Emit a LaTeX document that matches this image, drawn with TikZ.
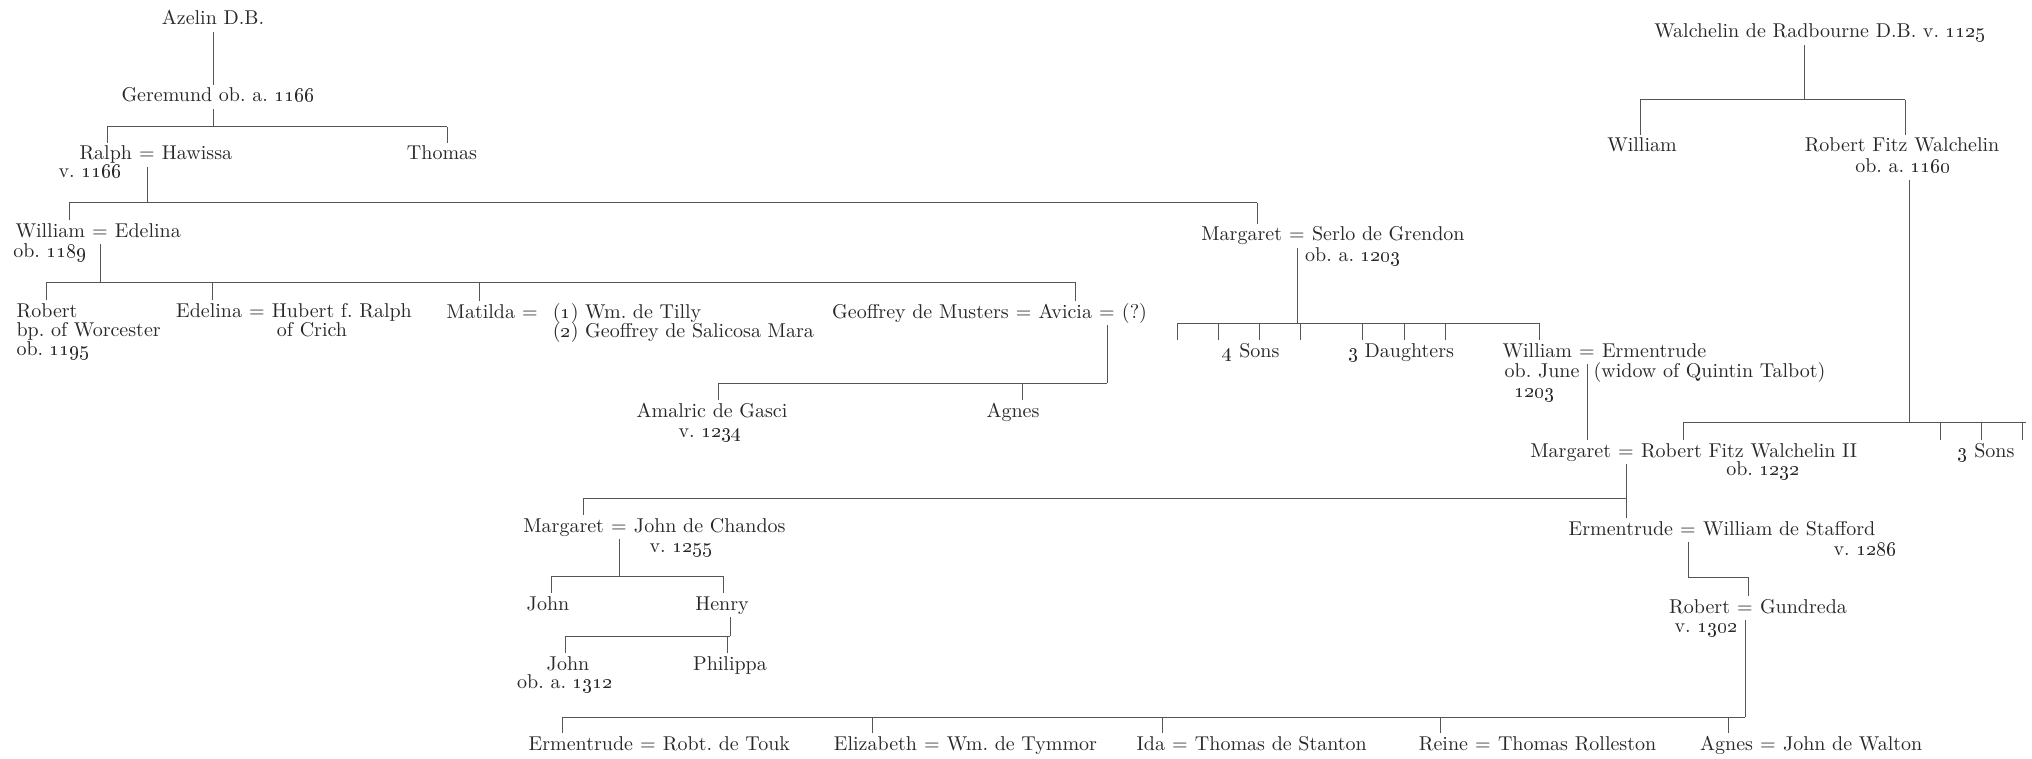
\documentclass[tikz,border=0pt]{standalone}
\usepackage{tikz}
\usetikzlibrary{positioning}
\definecolor{ink}{RGB}{40,40,40}
\definecolor{rulegray}{RGB}{85,85,85}
\newcommand{\yr}[1]{\oldstylenums{#1}}
\tikzset{
  pers/.style={inner xsep=1.6pt, inner ysep=1.5pt, text height=7pt, text depth=2pt,
               font=\fontsize{10}{12}\selectfont, text=ink},
  eqs/.style ={pers},
  kin/.style ={draw=rulegray, line width=0.5pt},
}
\begin{document}
\begin{tikzpicture}[x=0.5pt, y=-0.5pt]
\useasboundingbox (0,0) rectangle (2032,759);

% --- Azelin line ---
\node[pers] (aze) at (213,20) {Azelin D.B.};
\node[pers] (ger) at (218,97) {Geremund ob.\ a.\ \yr{1166}};
\node[eqs] (raleq) at (147,155) {=};
\node[pers, left=0pt of raleq] (ral) {Ralph};
\node[pers, right=0pt of raleq] (haw) {Hawissa};
\node[pers] (ralv) at (90,173) {v.\ \yr{1166}};
\node[pers] (tho) at (442,155) {Thomas};
\coordinate (b1w) at (107,127); \coordinate (b1e) at (447,127);
\draw[kin] (aze.south) -- (aze.south |- ger.north);
\draw[kin] (aze.south |- ger.south) -- (aze.south |- b1w);
\draw[kin] (b1w) -- (b1e);
\draw[kin] (b1w) -- (b1w |- ral.north);
\draw[kin] (b1e) -- (b1e |- tho.north);

\node[eqs] (wileq) at (100,232) {=};
\node[pers, left=0pt of wileq] (wil) {William};
\node[pers, right=0pt of wileq] (ede) {Edelina};
\node[pers] (wilob) at (50,252) {ob.\ \yr{1189}};
\node[eqs] (mgteq) at (1297,236) {=};
\node[pers, left=0pt of mgteq] (mgt) {Margaret};
\node[pers, right=0pt of mgteq] (ser) {Serlo de Grendon};
\node[pers] (serob) at (1353,256) {ob.\ a.\ \yr{1203}};
\coordinate (b2w) at (69,203); \coordinate (b2e) at (1257,203);
\draw[kin] (raleq.south) -- (raleq.south |- b2w);
\draw[kin] (b2w) -- (b2e);
\draw[kin] (b2w) -- (b2w |- wil.north);
\draw[kin] (b2e) -- (b2e |- mgt.north);

% children of William and Edelina
\node[pers, anchor=west] (rob) at (13,312) {Robert};
\node[pers, anchor=west] (robbp) at (13,331) {bp.\ of Worcester};
\node[pers, anchor=west] (robob) at (13,350) {ob.\ \yr{1195}};
\node[eqs] (edleq) at (257,312) {=};
\node[pers, left=0pt of edleq] (edl) {Edelina};
\node[pers, right=0pt of edleq] (hub) {Hubert f.\ Ralph};
\node[pers] (hubof) at (312,331) {of Crich};
\node[eqs] (mateq) at (530,313) {=};
\node[pers, left=0pt of mateq] (mat) {Matilda};
\node[pers, right=4pt of mateq] (til) {(\yr{1}) Wm.\ de Tilly};
\node[pers, anchor=west, yshift=-9.5pt] (sal) at (til.west) {(\yr{2}) Geoffrey de Salicosa Mara};
\node[eqs] (avieq) at (1107,313) {=};
\node[pers, left=0pt of avieq] (avi) {Avicia};
\node[eqs, left=0pt of avi] (geoeq) {=};
\node[pers, left=0pt of geoeq] (geo) {Geoffrey de Musters};
\node[pers, right=0pt of avieq] (unk) {(?)};
\coordinate (b3w) at (46,282); \coordinate (b3e) at (1075,282);
\draw[kin] (wileq.south) -- (wileq.south |- b3w);
\draw[kin] (b3w) -- (b3e);
\draw[kin] (b3w) -- (b3w |- rob.north);
\draw[kin] (212,282) -- (212,282 |- edl.north);
\draw[kin] (479,282) -- (479,282 |- mat.north);
\draw[kin] (b3e) -- (b3e |- avi.north);

\node[pers] (ama) at (712,412) {Amalric de Gasci};
\node[pers] (amav) at (710,432) {v.\ \yr{1234}};
\node[pers] (agn) at (1013,412) {Agnes};
\coordinate (b4w) at (718,383); \coordinate (b4e) at (1107,383);
\draw[kin] (avieq.south) -- (b4e);
\draw[kin] (b4w) -- (b4e);
\draw[kin] (b4w) -- (b4w |- ama.north);
\draw[kin] (1022,383) -- (1022,383 |- agn.north);

% children of Margaret and Serlo
\node[pers] (sons) at (1251,352) {\yr{4} Sons};
\node[pers] (dau) at (1401,352) {\yr{3} Daughters};
\node[eqs] (wlmeq) at (1587,352) {=};
\node[pers, left=0pt of wlmeq] (wlm) {William};
\node[pers, right=0pt of wlmeq] (erm) {Ermentrude};
\node[pers, anchor=east] (wlmob) at (1583,372) {ob.\ June};
\node[pers, anchor=west] (wid) at (1590,372) {(widow of Quintin Talbot)};
\node[pers] (wlmyr) at (1534,392) {\yr{1203}};
\coordinate (b5w) at (1177,323); \coordinate (b5e) at (1539,323);
\draw[kin] (mgteq.south) -- (mgteq.south |- b5w);
\draw[kin] (b5w) -- (b5e);
\foreach \x in {1177,1218,1259,1300} \draw[kin] (\x,323) -- (\x,323 |- sons.north);
\foreach \x in {1362,1404,1445} \draw[kin] (\x,323) -- (\x,323 |- dau.north);
\draw[kin] (b5e) -- (b5e |- wlm.north);

% --- Walchelin line ---
\node[pers] (wal) at (1820,33) {Walchelin de Radbourne D.B. v.\ \yr{1125}};
\node[pers] (wlw) at (1642,147) {William};
\node[pers] (rfw) at (1902,147) {Robert Fitz Walchelin};
\node[pers] (rfwob) at (1903,168) {ob.\ a.\ \yr{1160}};
\coordinate (b6w) at (1640,100); \coordinate (b6e) at (1905,100); \coordinate (walj) at (1804,100);
\draw[kin] (walj |- wal.south) -- (walj);
\draw[kin] (b6w) -- (b6e);
\draw[kin] (b6w) -- (b6w |- wlw.north);
\draw[kin] (b6e) -- (b6e |- rfw.north);

\node[eqs] (mg2eq) at (1626,452) {=};
\node[pers, left=0pt of mg2eq] (mg2) {Margaret};
\node[pers, right=0pt of mg2eq] (rf2) {Robert Fitz Walchelin II};
\node[pers] (rf2ob) at (1763,470) {ob.\ \yr{1232}};
\node[pers] (s3) at (1986,452) {\yr{3} Sons};
\coordinate (b7w) at (1683,422); \coordinate (b7e) at (2026,422); \coordinate (rfwj) at (1909,422);
\draw[kin] (rfwj |- rfwob.south) -- (rfwj);
\draw[kin] (wlmeq.south) -- (wlmeq.south |- mg2.north);
\draw[kin] (b7w) -- (b7e);
\draw[kin] (b7w) -- (b7w |- rf2.north);
\foreach \x in {1940,1981,2022} \draw[kin] (\x,422) -- (\x,422 |- s3.north);

% children of Margaret and Robert Fitz Walchelin II
\node[eqs] (mg3eq) at (619,527) {=};
\node[pers, left=0pt of mg3eq] (mg3) {Margaret};
\node[pers, right=0pt of mg3eq] (jch) {John de Chandos};
\node[pers] (jchv) at (681,547) {v.\ \yr{1255}};
\node[eqs] (erteq) at (1688,530) {=};
\node[pers, left=0pt of erteq] (ert) {Ermentrude};
\node[pers, right=0pt of erteq] (wst) {William de Stafford};
\node[pers] (wstv) at (1865,550) {v.\ \yr{1286}};
\coordinate (b8w) at (583,498); \coordinate (b8e) at (1626,498);
\draw[kin] (mg2eq.south) -- (mg2eq.south |- ert.north);
\draw[kin] (b8w) -- (b8e);
\draw[kin] (b8w) -- (b8w |- mg3.north);

% Chandos
\node[pers] (jo1) at (548,605) {John};
\node[pers] (hen) at (722,605) {Henry};
\node[pers] (jo2) at (568,665) {John};
\node[pers] (jo2ob) at (565,683) {ob.\ a.\ \yr{1312}};
\node[pers] (phi) at (730,665) {Philippa};
\coordinate (b9w) at (551,576); \coordinate (b9e) at (723,576);
\draw[kin] (mg3eq.south) -- (mg3eq.south |- b9w);
\draw[kin] (b9w) -- (b9e);
\draw[kin] (b9w) -- (b9w |- jo1.north);
\draw[kin] (b9e) -- (b9e |- hen.north);
\coordinate (b10w) at (565,636); \coordinate (b10e) at (730,636);
\draw[kin] (b10e |- hen.south) -- (b10e);
\draw[kin] (b10w) -- (b10e);
\draw[kin] (b10w) -- (b10w |- jo2.north);
\draw[kin] (727,636) -- (727,636 |- phi.north);

% Stafford
\node[eqs] (rbteq) at (1745,608) {=};
\node[pers, left=0pt of rbteq] (rbt) {Robert};
\node[pers, right=0pt of rbteq] (gun) {Gundreda};
\node[pers] (rbtv) at (1706,627) {v.\ \yr{1302}};
\coordinate (b11w) at (1688,577); \coordinate (b11e) at (1748,577);
\draw[kin] (erteq.south) -- (b11w) -- (b11e);
\draw[kin] (b11e) -- (b11e |- rbteq.north);

% children of Robert and Gundreda
\foreach \n/\x/\l/\r in {a/648/Ermentrude/Robt.\ de Touk, b/932/Elizabeth/Wm.\ de Tymmor,
    c/1180/Ida/Thomas de Stanton, d/1483/Reine/Thomas Rolleston, e/1768/Agnes/John de Walton} {
  \node[eqs] (beq\n) at (\x,745) {=};
  \node[pers, left=0pt of beq\n] (bl\n) {\l};
  \node[pers, right=0pt of beq\n] (br\n) {\r};
}
\coordinate (b12w) at (562,717); \coordinate (b12e) at (1745,717);
\draw[kin] (rbteq.south) -- (b12e);
\draw[kin] (b12w) -- (b12e);
\foreach \x in {562,872,1162,1440,1728} \draw[kin] (\x,717) -- (\x,717 |- bla.north);
\end{tikzpicture}
\end{document}
